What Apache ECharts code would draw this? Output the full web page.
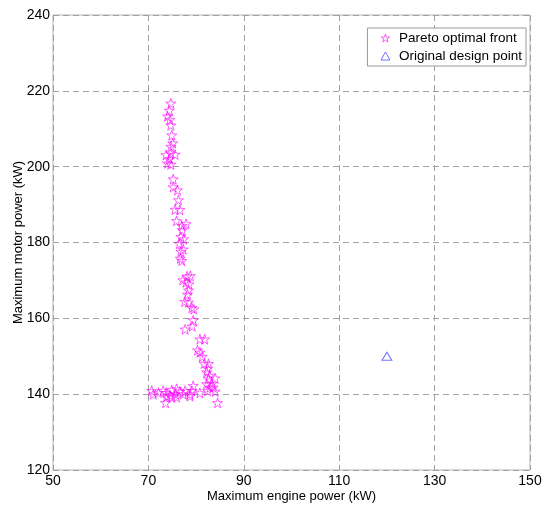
<!DOCTYPE html>
<html>
<head>
<meta charset="utf-8">
<script src="https://cdn.jsdelivr.net/npm/echarts@6/dist/echarts.min.js"></script>
<style>
    html, body { margin: 0; padding: 0; background: #fff; }
    #chart { width: 550px; height: 512px; }
</style>
</head>
<body>
<div id="chart"></div>
<script>
// Pareto front points
const paretoEngine = [
    74.7, 74.4, 74.0, 74.5, 74.7, 74.9, 75.1, 74.7, 73.7, 74.7, 75.6, 74.0, 74.7, 74.4,
    75.2, 75.2, 76.1, 76.3, 75.6, 76.6, 75.9, 77.9, 77.0, 77.1, 76.8, 77.4, 76.5, 77.3,
    76.8, 76.7, 77.0, 77.2, 78.1, 78.8, 77.9, 78.5, 78.4, 78.2, 77.6, 78.4, 79.1, 79.5,
    79.4, 79.2, 77.7, 80.8, 81.8, 80.3, 80.8, 81.3, 81.7, 82.6, 82.4, 82.2, 82.8, 84.0,
    82.6, 83.3, 82.2, 82.9, 83.6, 82.4, 84.0, 84.5, 79.4, 79.1, 80.8, 78.7, 77.7, 76.6,
    75.9, 75.6, 74.9, 74.5, 73.7, 73.8, 73.6, 72.1, 70.7, 71.0, 74.9, 75.9, 73.1, 77.3, 78.7
]
const paretoMotor = [
    216.7, 214.8, 213.3, 212.4, 210.9, 208.3, 206.2, 205.3, 203.1, 203.5, 203.2, 200.9, 200.6, 202.0,
    196.7, 194.6, 193.8, 191.2, 188.7, 188.6, 185.7, 184.9, 184.4, 183.3, 181.5, 180.9, 179.7, 178.2,
    177.6, 175.8, 175.2, 170.1, 171.1, 171.2, 169.5, 169.0, 167.4, 166.3, 164.4, 164.2, 162.8, 162.4,
    159.5, 157.9, 157.1, 154.5, 154.5, 151.6, 151.0, 149.9, 148.1, 148.0, 146.8, 145.8, 144.9, 144.2,
    144.0, 142.7, 142.7, 141.8, 141.8, 140.9, 140.7, 137.7, 142.2, 140.9, 140.3, 140.0, 140.9, 140.7,
    141.4, 140.0, 141.1, 139.7, 140.4, 139.4, 137.7, 140.4, 140.9, 140.0, 139.2, 139.2, 140.9, 140.0, 139.5
]
const designEngine = [120]
const designMotor = [150]

const xTicks = [50, 70, 90, 110, 130, 150]
const yTicks = [120, 140, 160, 180, 200, 220, 240]

const starPath = 'path://M50,2 L61,36 L97,36 L68,57 L79,92 L50,71 L21,92 L32,57 L3,36 L39,36 Z'
const fontFamily = '"Liberation Sans", Arial, sans-serif'

const chart = echarts.init(document.getElementById('chart'))

const gridLine = { show: true, lineStyle: { color: '#a0a0a0', type: [6, 4], width: 1 } }
const starStyle = { color: 'rgba(255,255,255,0)', borderColor: '#ff00ff', borderWidth: 0.8 }
const triStyle = { color: 'rgba(255,255,255,0)', borderColor: '#5050ff', borderWidth: 1 }

const option = {
    animation: false,
    textStyle: { fontFamily },
    grid: {
        left: 53, right: 20, top: 15, bottom: 42,
        outerBoundsMode: 'none',
        containLabel: false,
        show: true, borderColor: '#b4b4b4', borderWidth: 1
    },
    legend: {
        orient: 'vertical',
        right: 24,
        top: 28,
        itemWidth: 9,
        itemHeight: 8,
        itemGap: 4,
        padding: [3, 4, 3, 13],
        borderColor: '#999',
        borderWidth: 1,
        backgroundColor: '#fff',
        textStyle: { fontSize: 13.5, color: '#000', fontFamily, padding: [0, 0, 0, 4] },
        data: [
            { name: 'Pareto optimal front', icon: starPath, itemStyle: starStyle },
            { name: 'Original design point', icon: 'triangle', itemStyle: triStyle }
        ]
    },
    xAxis: {
        type: 'value',
        min: xTicks[0],
        max: xTicks[xTicks.length - 1],
        interval: 20,
        name: 'Maximum engine power (kW)',
        nameLocation: 'middle',
        nameGap: 20,
        nameMoveOverlap: false,
        nameTextStyle: { fontSize: 13, color: '#000', fontFamily },
        axisLine: { show: false },
        axisTick: { show: false },
        axisLabel: { fontSize: 14, color: '#000', margin: 4, fontFamily },
        splitLine: gridLine
    },
    yAxis: {
        type: 'value',
        min: yTicks[0],
        max: yTicks[yTicks.length - 1],
        interval: 20,
        name: 'Maximum motor power (kW)',
        nameLocation: 'middle',
        nameGap: 28,
        nameMoveOverlap: false,
        nameTextStyle: { fontSize: 13, color: '#000', fontFamily },
        axisLine: { show: false },
        axisTick: { show: false },
        axisLabel: { fontSize: 14, color: '#000', margin: 3, fontFamily },
        splitLine: gridLine
    },
    series: [
        {
            name: 'Pareto optimal front',
            type: 'scatter',
            symbol: starPath,
            symbolSize: 10,
            itemStyle: starStyle,
            data: paretoEngine.map((x, i) => [x, paretoMotor[i]])
        },
        {
            name: 'Original design point',
            type: 'scatter',
            symbol: 'triangle',
            symbolSize: [10, 8],
            itemStyle: triStyle,
            data: designEngine.map((x, i) => [x, designMotor[i]])
        }
    ]
}

chart.setOption(option)
</script>
</body>
</html>
